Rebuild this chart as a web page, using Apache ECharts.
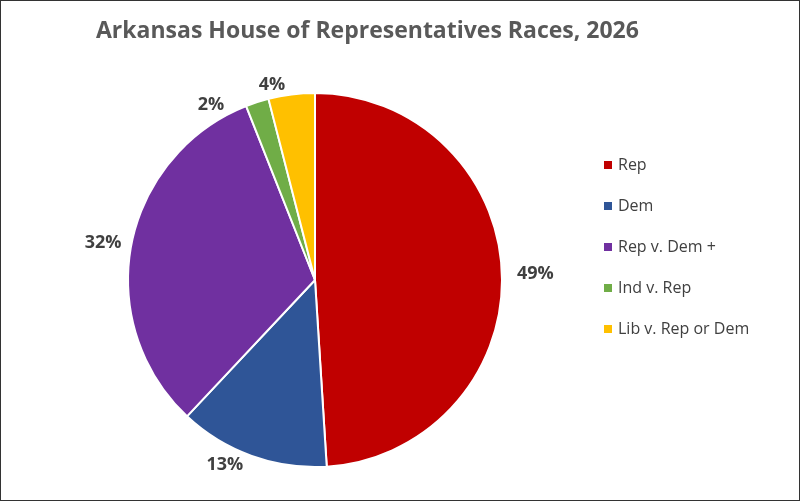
<!DOCTYPE html>
<html><head><meta charset="utf-8">
<script src="https://cdn.jsdelivr.net/npm/echarts@6/dist/echarts.min.js"></script>
<style>html,body{margin:0;padding:0;background:#fff}#c{width:798px;height:499px;border:1px solid #333}</style>
</head><body><div id="c"></div>
<script>
const categories = ['Rep','Dem','Rep v. Dem +','Ind v. Rep','Lib v. Rep or Dem'];
const values = [49,13,32,2,4];
const colors = ['#C00000','#2F5597','#7030A0','#70AD47','#FFC000'];
const chart = echarts.init(document.getElementById('c'));
chart.setOption({
  title:{text:'Arkansas House of Representatives Races, 2026',left:90,top:14,
    textStyle:{fontFamily:'Open Sans',fontSize:23,fontWeight:'bold',color:'#595959'}},
  color:colors,
  legend:{orient:'vertical',left:596,top:151,itemGap:25,itemWidth:10,itemHeight:10,icon:'rect',
    textStyle:{fontFamily:'Open Sans',fontSize:16,color:'#404040'},data:categories},
  series:[{type:'pie',center:[314,279],radius:187,startAngle:90,clockwise:true,
    itemStyle:{borderColor:'#fff',borderWidth:2},
    label:{position:'outside',formatter:'{d}%',distance:12,fontFamily:'Open Sans',fontSize:18,fontWeight:'bold',color:'#404040'},
    labelLine:{show:false,length:10,length2:0},
    emphasis:{disabled:true},
    data:categories.map((n,i)=>({name:n,value:values[i]}))}]
});
</script></body></html>
